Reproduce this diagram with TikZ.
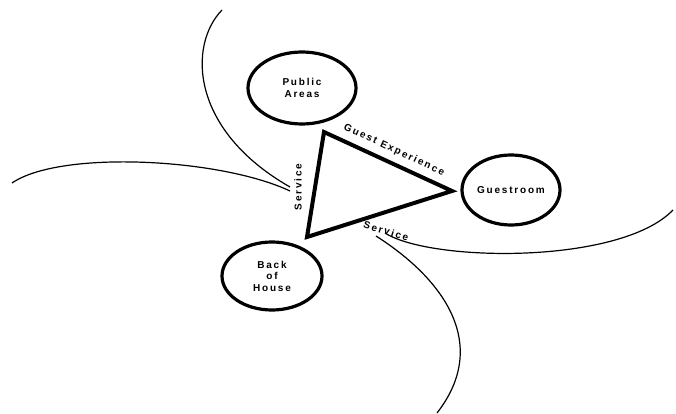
\documentclass[tikz,border=0pt]{standalone}
\usepackage{fontspec}
\usetikzlibrary{shapes.geometric}
\newfontfamily\lblfont[LetterSpace=18]{Liberation Sans Bold}
\begin{document}
\begin{tikzpicture}[x=1pt,y=-1pt,
  place/.style={ellipse,draw,line width=3.2pt,inner sep=0pt,align=center,font=\lblfont\fontsize{10}{11.5}\selectfont},
  flow/.style={line width=1.2pt},
  edgelbl/.style={font=\lblfont\fontsize{10}{11}\selectfont,inner sep=1pt}]
\useasboundingbox (0,0) rectangle (676,414);
\fill[white] (0,0) rectangle (676,414);
% places
\node[place,minimum width=108pt,minimum height=72pt] (pub) at (302,88) {Public\\Areas};
\node[place,minimum width=98pt,minimum height=70pt] (guest) at (511,190) {Guestroom};
\node[place,minimum width=100pt,minimum height=68pt] (boh) at (272,276) {Back\\of\\House};
% triangle
\coordinate (ta) at (324,132);
\coordinate (tb) at (452,191);
\coordinate (tc) at (307,237);
\draw[line width=4pt,line join=miter] (ta) -- (tb) -- (tc) -- cycle;
% labels
\node[edgelbl,rotate=-25] (lge) at (394,150) {Guest Experience};
\node[edgelbl,rotate=90] (lsl) at (298,187) {Service};
\node[edgelbl,rotate=-17] (lsb) at (386,231) {Service};
% curves
\coordinate (c1s) at (222,10);
\coordinate (c1e) at (290,187);
\coordinate (c2s) at (12,183);
\coordinate (c2e) at (290,191);
\coordinate (c3s) at (385,233);
\coordinate (c3e) at (673,210);
\coordinate (c4s) at (376,236);
\coordinate (c4e) at (437,413);
\draw[flow] (c1s) .. controls (188,45) and (190,130) .. (c1e);
\draw[flow] (c2s) .. controls (60,150) and (220,158) .. (c2e);
\draw[flow] (c3s) .. controls (430,262) and (620,265) .. (c3e);
\draw[flow] (c4s) .. controls (445,280) and (490,345) .. (c4e);
\end{tikzpicture}
\end{document}
